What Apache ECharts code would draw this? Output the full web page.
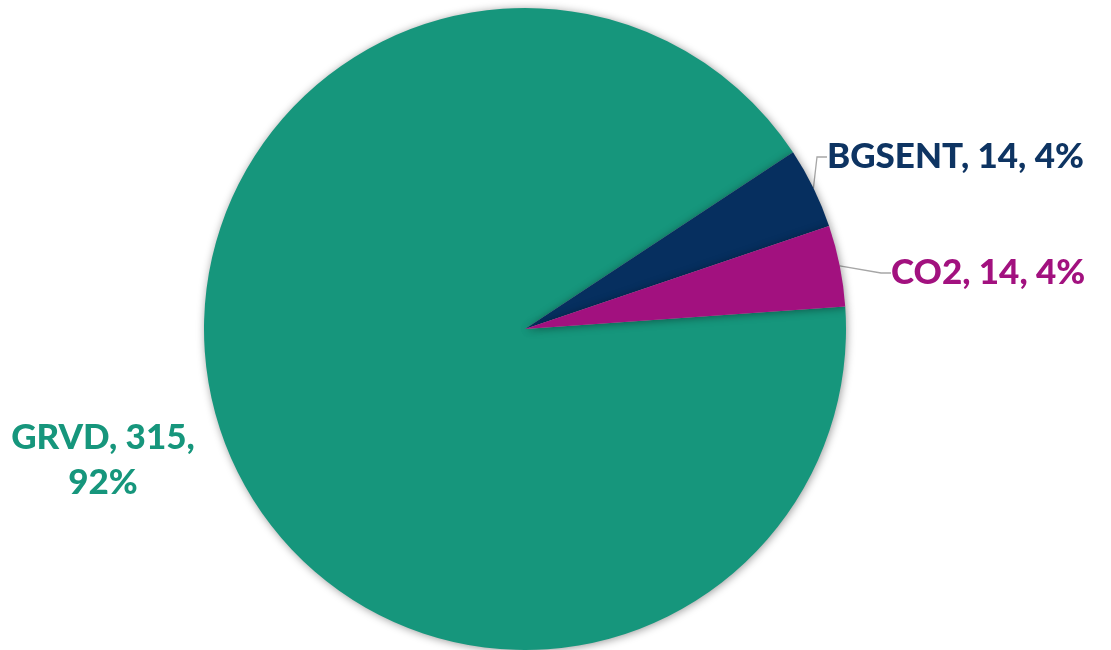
<!DOCTYPE html>
<html><head><meta charset="utf-8">
<script src="https://cdn.jsdelivr.net/npm/echarts@6/dist/echarts.min.js"></script>
<style>html,body{margin:0;padding:0;background:#fff}#c{width:1111px;height:650px}</style>
</head><body><div id="c"></div>
<script>
const categories = ['GRVD', 'BGSENT', 'CO2'];
const values = [315, 14, 14];
const sliceColors = ['#16967C', '#062F5F', '#A2117F'];
const labelColors = ['#16967C', '#0E3462', '#A2117F'];
const labelAnchors = [[103, 460, 'center', 'middle'], [827, 157, 'left', 'middle'], [891, 273, 'left', 'middle']];

const total = values.reduce((a, b) => a + b, 0);
const chart = echarts.init(document.getElementById('c'), null, {renderer: 'canvas'});
chart.setOption({
  animation: false,
  backgroundColor: '#ffffff',
  series: [{
    type: 'pie',
    center: [525, 329],
    radius: 321,
    startAngle: 4,
    clockwise: true,
    avoidLabelOverlap: false,
    itemStyle: {shadowBlur: 9, shadowColor: 'rgba(0,0,0,0.4)', shadowOffsetX: 1, shadowOffsetY: 1},
    label: {
      show: true,
      position: 'outside',
      fontFamily: 'Lato',
      fontWeight: 900,
      fontSize: 35,
      lineHeight: 45,
      formatter: p => {
        const pct = Math.round(p.value / total * 100) + '%';
        return p.dataIndex === 0 ? `${p.name}, ${p.value},\n${pct}` : `${p.name}, ${p.value}, ${pct}`;
      }
    },
    labelLine: {show: true, length: 15, length2: 10, lineStyle: {color: '#A6A6A6', width: 1.3}},
    labelLayout: params => {
      const a = labelAnchors[params.dataIndex];
      return {x: a[0], y: a[1], align: a[2], verticalAlign: a[3]};
    },
    data: categories.map((n, i) => ({
      name: n,
      value: values[i],
      itemStyle: {color: sliceColors[i]},
      label: {color: labelColors[i], align: i === 0 ? 'center' : 'left'},
      labelLine: {show: i !== 0}
    }))
  }]
});
</script></body></html>
